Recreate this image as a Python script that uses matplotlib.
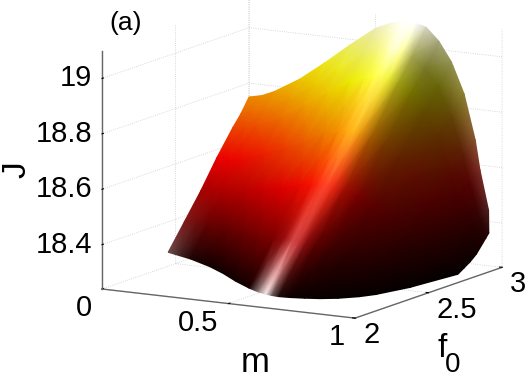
import matplotlib
matplotlib.use("Agg")
import matplotlib.pyplot as plt
import numpy as np
from mpl_toolkits.mplot3d import proj3d

plt.rcParams['font.family'] = ['Liberation Sans', 'DejaVu Sans']
plt.rcParams['grid.color'] = (0.8, 0.8, 0.8)
plt.rcParams['grid.linestyle'] = ':'
plt.rcParams['grid.linewidth'] = 0.6

# surface: one row per m, columns go from the low edge
# of f0 to the high edge of f0
m_vals = [0, .05, .1, .2, .3, .4, .5, .56, .6, .63, .66, .7, .75, .8, .85, .9, .93, .97, 1]
f0_low = [2.45, 2.44, 2.43, 2.39, 2.31, 2.22, 2.14, 2.10, 2.08, 2.07, 2.065, 2.07, 2.085, 2.105, 2.14, 2.20, 2.26, 2.42, 2.70]
f0_high = [3, 3, 3, 3, 3, 3, 3, 3, 3, 3, 3, 3, 3, 3, 3, 2.99, 2.97, 2.96, 2.91]
edge_frac = [0, .2, .4, .6, .8, .9, 1]
J_vals = [
    [18.29, 18.38, 18.47, 18.57, 18.66, 18.70, 18.75],
    [18.285, 18.38, 18.48, 18.57, 18.67, 18.72, 18.76],
    [18.28, 18.38, 18.48, 18.58, 18.68, 18.73, 18.78],
    [18.27, 18.39, 18.50, 18.61, 18.72, 18.78, 18.835],
    [18.27, 18.40, 18.53, 18.65, 18.78, 18.84, 18.905],
    [18.27, 18.41, 18.55, 18.69, 18.84, 18.91, 18.98],
    [18.27, 18.42, 18.58, 18.74, 18.89, 18.97, 19.05],
    [18.27, 18.43, 18.59, 18.75, 18.91, 18.99, 19.075],
    [18.27, 18.43, 18.60, 18.76, 18.92, 19.00, 19.085],
    [18.27, 18.43, 18.60, 18.76, 18.93, 19.01, 19.09],
    [18.27, 18.43, 18.60, 18.76, 18.92, 19.00, 19.085],
    [18.27, 18.43, 18.59, 18.75, 18.91, 18.99, 19.075],
    [18.27, 18.42, 18.57, 18.73, 18.88, 18.95, 19.03],
    [18.27, 18.40, 18.54, 18.68, 18.82, 18.89, 18.96],
    [18.27, 18.38, 18.50, 18.62, 18.74, 18.79, 18.85],
    [18.27, 18.34, 18.42, 18.52, 18.61, 18.65, 18.69],
    [18.27, 18.32, 18.38, 18.45, 18.52, 18.56, 18.59],
    [18.27, 18.30, 18.33, 18.37, 18.41, 18.43, 18.45],
    [18.27, 18.285, 18.30, 18.32, 18.35, 18.365, 18.38],
]
m_ticks = [0, 0.5, 1]
m_labels = ["0", "0.5", "1"]
f0_ticks = [2, 2.5, 3]
f0_labels = ["2", "2.5", "3"]
J_ticks = [18.4, 18.6, 18.8, 19]
J_labels = ["18.4", "18.6", "18.8", "19"]

W, H = 525, 379
fig = plt.figure(figsize=(W / 100, H / 100), dpi=100)
fig.patch.set_facecolor("white")
ax = fig.add_axes([0, 0, 1, 1], projection="3d", proj_type="ortho")
ax.patch.set_alpha(0)
ax.view_init(elev=11.5, azim=-60)
ax.set_box_aspect((292, 294, 243))
ax.set_xlim(0, 1)
ax.set_ylim(2, 3)
ax.set_zlim(18.24, 19.1)
ax.set_xticks(m_ticks)
ax.set_yticks(f0_ticks)
ax.set_zticks(J_ticks)
ax.set_xticklabels([])
ax.set_yticklabels([])
ax.set_zticklabels([])
ax.zaxis.set_ticks_position("lower")
for axis in (ax.xaxis, ax.yaxis, ax.zaxis):
    axis.set_pane_color((1, 1, 1, 0))
    axis.pane.set_edgecolor((1, 1, 1, 0))
    axis.line.set_color((0.4, 0.4, 0.4))
    axis.line.set_linewidth(1.0)
    axis._axinfo["tick"]["inward_factor"] = 0
    axis._axinfo["tick"]["outward_factor"] = 0.12
    axis._axinfo["tick"]["color"] = (0.4, 0.4, 0.4)
    axis._axinfo["tick"]["linewidth"] = {True: 0.8, False: 0.8}


def to_pixels(x, y, z):
    # goes through the 3d axes own projection
    px, py, _ = proj3d.proj_transform(np.ravel(x), np.ravel(y), np.ravel(z), ax.get_proj())
    pts = ax.transData.transform(np.column_stack([px, py]))
    return pts[:, 0].reshape(np.shape(x)), pts[:, 1].reshape(np.shape(x))


# fit the box on the picture: m axis runs from (102,289) to (355,318)
size = 400.0
ax.set_position([0, 0, size / W, size / H])
fig.canvas.draw()
xa, ya = to_pixels(np.array([0.0, 1.0]), np.array([2.0, 2.0]), np.array([18.24, 18.24]))
size = size * 253.0 / (xa[1] - xa[0])
ax.set_position([0, 0, size / W, size / H])
fig.canvas.draw()
xa, ya = to_pixels(np.array([0.0]), np.array([2.0]), np.array([18.24]))
ax.set_position([(102 - xa[0]) / W, ((H - 289) - ya[0]) / H, size / W, size / H])
fig.canvas.draw()

# mesh
m_arr = np.array(m_vals)
frac = np.array(edge_frac)
low = np.array(f0_low)
high = np.array(f0_high)
J = np.array(J_vals)
M = np.repeat(m_arr[:, None], len(frac), axis=1)
F = low[:, None] + (high - low)[:, None] * frac[None, :]
sx, sy = to_pixels(M, F, J)

# colour: hot map on J, darker on the side turned away from the light, plus a
# bright streak along the ridge
rgb = plt.get_cmap("hot")(np.clip((J - 18.26) / 0.84, 0, 1))[:, :, :3]
diffuse = np.interp(M, [0, .5, .63, .68, .72, .8, 1], [.92, .92, 1, .75, .5, .38, .3])
streak_amp = np.interp(F, [2, 2.08, 2.15, 2.25, 2.4, 2.6, 2.8, 3], [1, 1, .55, .3, .18, .12, .14, .4])
streak_mid = np.interp(F, [2.1, 2.45], [.59, .63])
streak = np.exp(-((M - streak_mid) / .04) ** 2) * streak_amp
sheen = np.exp(-(M / .06) ** 2) * np.exp(-(frac[None, :] / .2) ** 2) * 0.3
edge = np.exp(-((F - 3) / .06) ** 2) * (M > .66) * 0.2
colours = np.clip(rgb * diffuse[:, :, None] + (streak + sheen + edge)[:, :, None], 0, 1)

ov = fig.add_axes([0, 0, 1, 1], zorder=5)
ov.set_xlim(0, W)
ov.set_ylim(0, H)
ov.axis("off")
ov.pcolormesh(sx, sy, colours, shading="gouraud")

# tick labels, placed from the projected tick positions
for val, lab in zip(m_ticks, m_labels):
    tx, ty = to_pixels(np.array([val]), np.array([2.0]), np.array([18.24]))
    ov.annotate(lab, (tx[0], ty[0]), xytext=(-10, -19), textcoords="offset pixels",
                ha="right", va="center", fontsize=21)
for val, lab in zip(f0_ticks, f0_labels):
    tx, ty = to_pixels(np.array([1.0]), np.array([val]), np.array([18.24]))
    ov.annotate(lab, (tx[0], ty[0]), xytext=(8, -17), textcoords="offset pixels",
                ha="left", va="center", fontsize=21)
for val, lab in zip(J_ticks, J_labels):
    tx, ty = to_pixels(np.array([0.0]), np.array([2.0]), np.array([val]))
    ov.annotate(lab, (tx[0], ty[0]), xytext=(-10, 0), textcoords="offset pixels",
                ha="right", va="center", fontsize=21)

fig.text(126 / W, 1 - 23 / H, "(a)", fontsize=19, ha="center", va="center")
fig.text(255 / W, 1 - 371.5 / H, "m", fontsize=25, ha="center", va="baseline")
fig.text(17 / W, 1 - 170 / H, "J", fontsize=24, ha="center", va="center", rotation=90)
fig.text(442 / W, 1 - 357 / H, "f", fontsize=24, ha="center", va="baseline")
fig.text(452.5 / W, 1 - 372.5 / H, "0", fontsize=20, ha="center", va="baseline")

fig.savefig("out.png", dpi=100)
